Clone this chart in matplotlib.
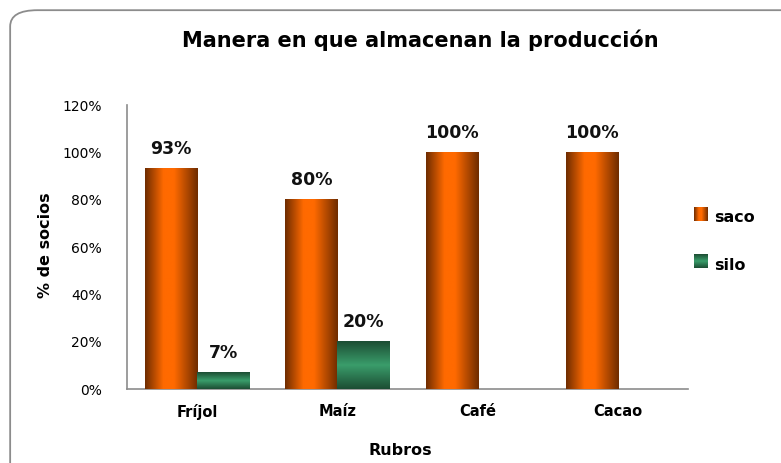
import matplotlib
matplotlib.use("Agg")
import matplotlib.pyplot as plt
import numpy as np
from matplotlib.colors import LinearSegmentedColormap
from matplotlib.patches import FancyBboxPatch
from matplotlib.ticker import FuncFormatter
from matplotlib.legend_handler import HandlerBase
from matplotlib.image import BboxImage
from matplotlib.transforms import Bbox, TransformedBbox

categories = ["Fríjol", "Maíz", "Café", "Cacao"]
saco = [93, 80, 100, 100]
silo = [7, 20, 0, 0]
series_names = ["saco", "silo"]
yticks = [0, 20, 40, 60, 80, 100, 120]

orange_cmap = LinearSegmentedColormap.from_list(
    "or", [(0, "#6e2c00"), (0.35, "#ff6a00"), (0.55, "#ff6a00"), (1, "#6e2c00")])
green_cmap = LinearSegmentedColormap.from_list(
    "gr", [(0, "#1c4d33"), (0.5, "#3a9d6b"), (1, "#1c4d33")])

fig = plt.figure(figsize=(7.81, 4.63), dpi=100)
border = FancyBboxPatch((0.013, -0.06), 1.05, 1.038, boxstyle="round,pad=0,rounding_size=0.035",
                        transform=fig.transFigure, fill=False, edgecolor="#8c8c8c",
                        linewidth=1.3, clip_on=False)
fig.patches.append(border)

ax = fig.add_axes([0.1626, 0.1598, 0.7184, 0.6134])
x = np.arange(len(categories))
w = 0.371
b1 = ax.bar(x - w / 2, saco, w, color="#ff6600", label=series_names[0], zorder=2)
b2 = ax.bar(x + w / 2, silo, w, color="#2e8b57", label=series_names[1], zorder=2)

horiz = np.linspace(0, 1, 256).reshape(1, -1)
vert = np.linspace(0, 1, 256).reshape(-1, 1)
for bars, grad, cmap in ((b1, horiz, orange_cmap), (b2, vert, green_cmap)):
    for p in bars:
        x0, y0 = p.get_x(), p.get_y()
        bw, bh = p.get_width(), p.get_height()
        if bh <= 0:
            continue
        ax.imshow(grad, cmap=cmap, extent=[x0, x0 + bw, y0, y0 + bh], aspect="auto", zorder=3)
        p.set_alpha(0)

for bars, vals in ((b1, saco), (b2, silo)):
    for p, v in zip(bars, vals):
        if v <= 0:
            continue
        ax.text(p.get_x() + p.get_width() / 2, v + 4.5, f"{v}%", ha="center", va="bottom",
                fontsize=12.5, fontweight="bold", color="#111111")

ax.set_xlim(-0.5, len(categories) - 0.5)
ax.set_ylim(0, 120)
ax.set_yticks(yticks)
ax.yaxis.set_major_formatter(FuncFormatter(lambda v, _: f"{int(v)}%"))
ax.set_xticks(x)
ax.set_xticklabels(categories, fontsize=10.5, fontweight="bold")
ax.tick_params(axis="y", length=0, labelsize=10, pad=18)
ax.tick_params(axis="x", length=0, pad=11)
for s in ("top", "right"):
    ax.spines[s].set_visible(False)
for s in ("left", "bottom"):
    ax.spines[s].set_color("#8c8c8c")
    ax.spines[s].set_linewidth(1.2)

fig.text(0.538, 0.913, "Manera en que almacenan la producción", ha="center", va="center",
         fontsize=15, fontweight="bold")
fig.text(0.058, 0.47, "% de socios", rotation=90, ha="center", va="center",
         fontsize=11.5, fontweight="bold")
fig.text(0.512, 0.028, "Rubros", ha="center", va="center", fontsize=11.5, fontweight="bold")


class GradHandler(HandlerBase):
    def __init__(self, cmap, grad):
        super().__init__()
        self.cmap = cmap
        self.grad = grad

    def create_artists(self, legend, orig, xd, yd, width, height, fontsize, trans):
        side = height * 0.95
        bb = Bbox.from_bounds(xd + width - side, yd, side, side)
        tbb = TransformedBbox(bb, trans)
        img = BboxImage(tbb, cmap=self.cmap, interpolation="bilinear")
        img.set_data(self.grad)
        return [img]


leg = ax.legend(handles=[b1, b2], labels=series_names, loc="center left",
                bbox_to_anchor=(0.98, 0.52), frameon=False,
                labelspacing=2.0, handlelength=1.0, handleheight=1.0, handletextpad=0.45,
                handler_map={b1: GradHandler(orange_cmap, horiz), b2: GradHandler(green_cmap, vert)},
                prop={"weight": "bold", "size": 11.5})

fig.savefig("out.png", dpi=100)
